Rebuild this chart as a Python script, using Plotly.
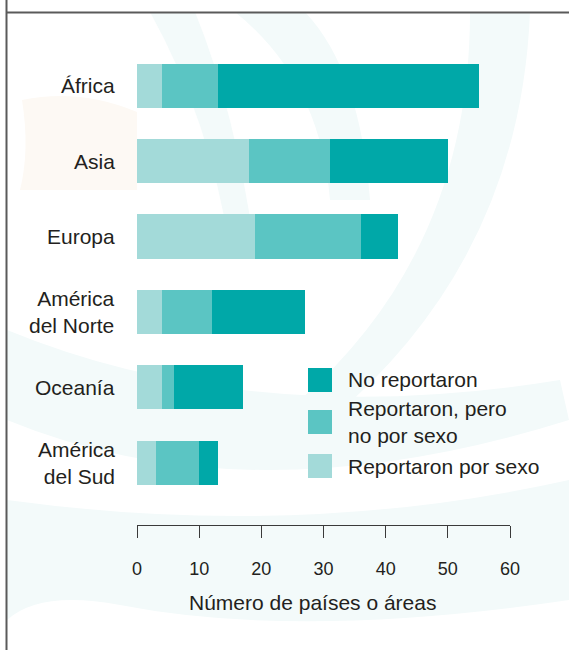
import plotly.graph_objects as go

# ---- data ----
regions = ["África", "Asia", "Europa", "América<br>del Norte", "Oceanía", "América<br>del Sud"]
por_sexo = [4, 18, 19, 4, 4, 3]          # Reportaron por sexo
no_por_sexo = [9, 13, 17, 8, 2, 7]       # Reportaron, pero no por sexo
no_reportaron = [42, 19, 6, 15, 11, 3]   # No reportaron
series_names = ["Reportaron por sexo", "Reportaron, pero<br>no por sexo", "No reportaron"]
x_ticks = [0, 10, 20, 30, 40, 50, 60]
x_title = "Número de países o áreas"

colors = ["#A3DAD9", "#5BC5C3", "#00A8A8"]
text_color = "#231F20"
FONT = "Liberation Sans, Arial, sans-serif"
FS = 21

W, H = 569, 650
L, R, T, B = 137, 510, 48, 525   # plot area in pixels


def px(x):
    return (x - L) / (R - L)


def py(y):
    return (B - y) / (B - T)


fig = go.Figure()
for vals, name, col in zip([por_sexo, no_por_sexo, no_reportaron], series_names, colors):
    fig.add_trace(go.Bar(y=regions, x=vals, orientation="h", name=name,
                         marker=dict(color=col, line=dict(width=0)), showlegend=False))

unit = 75.4
shapes = []
annotations = []

# faint background watermark
wm = "#F3FAFA"
wm_paths = [
    f"M {px(470)},{py(12)} Q {px(470)},{py(250)} {px(300)},{py(400)} "
    f"L {px(330)},{py(420)} Q {px(520)},{py(260)} {px(530)},{py(12)} Z",
    f"M {px(150)},{py(12)} Q {px(210)},{py(120)} {px(230)},{py(250)} "
    f"L {px(255)},{py(250)} Q {px(235)},{py(110)} {px(195)},{py(12)} Z",
    f"M {px(235)},{py(12)} Q {px(320)},{py(80)} {px(330)},{py(200)} "
    f"L {px(370)},{py(200)} Q {px(360)},{py(70)} {px(305)},{py(12)} Z",
    f"M {px(7)},{py(330)} Q {px(250)},{py(430)} {px(560)},{py(380)} "
    f"L {px(569)},{py(420)} Q {px(250)},{py(520)} {px(7)},{py(420)} Z",
    f"M {px(7)},{py(500)} Q {px(300)},{py(540)} {px(569)},{py(480)} "
    f"L {px(569)},{py(600)} Q {px(300)},{py(640)} {px(120)},{py(605)} "
    f"Q {px(40)},{py(590)} {px(7)},{py(620)} Z",
]
for p in wm_paths:
    shapes.append(dict(type="path", path=p, xref="paper", yref="paper",
                       fillcolor=wm, line=dict(width=0), layer="below"))
shapes.append(dict(type="path",
                   path=f"M {px(22)},{py(100)} Q {px(80)},{py(88)} {px(137)},{py(112)} "
                        f"L {px(137)},{py(190)} L {px(20)},{py(190)} Q {px(30)},{py(150)} {px(22)},{py(100)} Z",
                   xref="paper", yref="paper", fillcolor="#FDF9F4",
                   line=dict(width=0), layer="below"))

# frame lines
shapes.append(dict(type="line", xref="paper", yref="paper",
                   x0=px(6.5), x1=px(6.5), y0=py(0), y1=py(650),
                   line=dict(color="#5A5A5A", width=2)))
shapes.append(dict(type="line", xref="paper", yref="paper",
                   x0=px(6.5), x1=px(569), y0=py(12.5), y1=py(12.5),
                   line=dict(color="#5A5A5A", width=2)))

# category labels
for cat in regions:
    annotations.append(dict(text=cat, xref="paper", yref="y", x=px(117), y=cat,
                            xanchor="right", yanchor="middle", align="right", showarrow=False,
                            font=dict(size=FS, color=text_color, family=FONT)))

# legend (manual)
legend_items = [
    (colors[2], series_names[2], 380),
    (colors[1], series_names[1], 422),
    (colors[0], series_names[0], 466),
]
for col, label, yc in legend_items:
    shapes.append(dict(type="rect", xref="paper", yref="paper",
                       x0=px(308), x1=px(332), y0=py(yc - 12), y1=py(yc + 12),
                       fillcolor=col, line=dict(width=0)))
    annotations.append(dict(text=label, xref="paper", yref="paper",
                            x=px(346), y=py(yc), xanchor="left", yanchor="middle", align="left",
                            showarrow=False, font=dict(size=FS, color=text_color, family=FONT)))

annotations.append(dict(text=x_title, xref="paper", yref="paper",
                        x=px(312), y=py(602), xanchor="center", yanchor="middle",
                        showarrow=False, font=dict(size=FS, color=text_color, family=FONT)))

fig.update_layout(
    width=W, height=H,
    margin=dict(l=L, r=W - R, t=T, b=H - B, pad=0),
    barmode="stack", bargap=0.416,
    paper_bgcolor="white", plot_bgcolor="rgba(0,0,0,0)",
    font=dict(family=FONT, color=text_color, size=FS),
    shapes=shapes, annotations=annotations,
    xaxis=dict(range=[0, 60], tickvals=x_ticks, showgrid=False, zeroline=False,
               showline=True, linecolor="#3A3A3A", linewidth=1,
               ticks="outside", ticklen=12, tickcolor="#3A3A3A", tickwidth=1,
               ticklabelstandoff=15, tickfont=dict(size=18, color=text_color)),
    yaxis=dict(categoryorder="array", categoryarray=regions,
               range=[-0.5 + (B - T) / unit, -0.5], showgrid=False, zeroline=False,
               showline=False, ticks="", showticklabels=False),
)

fig.write_html("out.html")
